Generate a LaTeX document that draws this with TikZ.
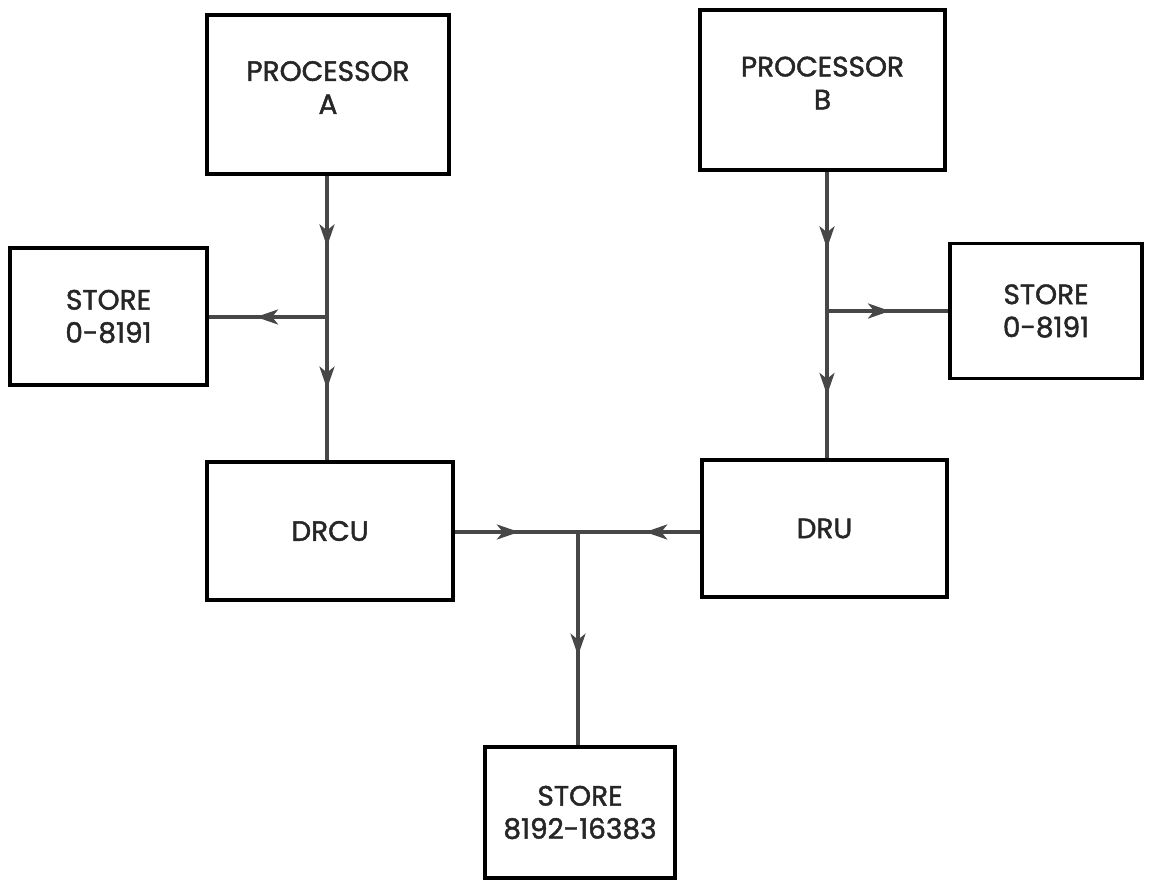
\documentclass[tikz,border=0pt]{standalone}
\usepackage{fontspec}
\setmainfont{Poppins}[BoldFont=Poppins, BoldFeatures={FakeBold=1.6}]
\usetikzlibrary{arrows.meta,decorations.markings}
\tikzset{
  box/.style={draw=black, line width=3.6pt, minimum width=#1, inner sep=0pt,
    font=\fontsize{28}{33}\selectfont\bfseries, align=center, text=black!85},
  conn/.style={draw=black!72, line width=3.4pt},
  mid/.style={postaction={decorate}, decoration={markings,
      mark=at position #1 with {\arrow[black!72]{Stealth[length=22pt,width=15pt,inset=6pt]}}}}
}
\begin{document}
\begin{tikzpicture}[x=1pt,y=-1pt]
\useasboundingbox (0,0) rectangle (1155,880);
% boxes
\node[box=242pt, minimum height=159pt] (procA) at (328,94.5) {PROCESSOR\\A\\[-19pt]\mbox{}};
\node[box=245pt, minimum height=160pt] (procB) at (822.5,90) {PROCESSOR\\B\\[-19pt]\mbox{}};
\node[box=197pt, minimum height=137pt] (storeL) at (108.5,316.5) {STORE\\0-8191};
\node[box=192pt, minimum height=135pt] (storeR) at (1046,311) {STORE\\0-8191};
\node[box=246pt, minimum height=138pt] (drcu) at (330,531) {DRCU};
\node[box=245pt, minimum height=137pt] (dru) at (824.5,528.5) {DRU};
\node[box=190pt, minimum height=131pt] (storeB) at (580,812.5) {STORE\\8192-16383};
% junctions
\coordinate (jA) at (327,317);
\coordinate (jB) at (827,311);
\coordinate (jC) at (578,532);
% connectors
\draw[conn, mid=0.5] (procA.south -| jA) -- (jA);
\draw[conn, mid=0.5] (jA) -- (drcu.north -| jA);
\draw[conn, mid=0.6] (jA) -- (storeL.east |- jA);
\draw[conn, mid=0.55] (procB.south -| jB) -- (jB);
\draw[conn, mid=0.57] (jB) -- (dru.north -| jB);
\draw[conn, mid=0.52] (jB) -- (storeR.west |- jB);
\draw[conn, mid=0.52] (drcu.east |- jC) -- (jC);
\draw[conn, mid=0.45] (dru.west |- jC) -- (jC);
\draw[conn, mid=0.58] (jC) -- (storeB.north -| jC);
\end{tikzpicture}
\end{document}
